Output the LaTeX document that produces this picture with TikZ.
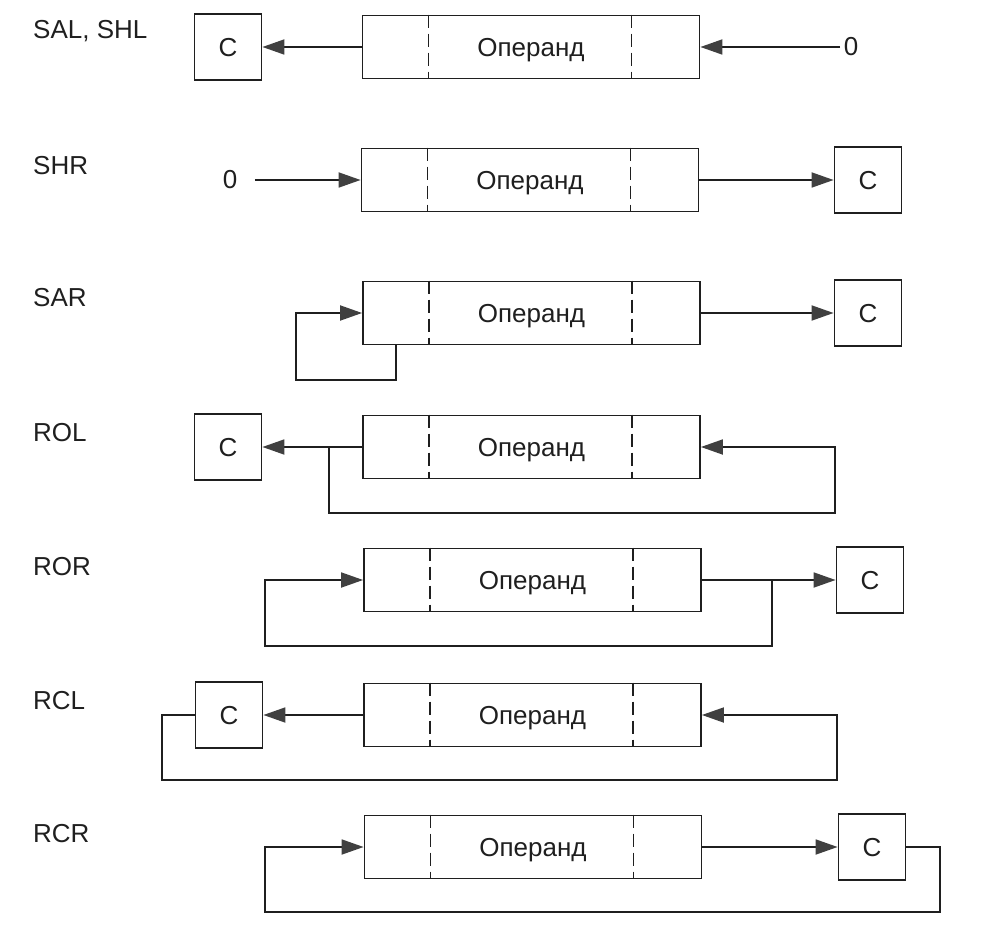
\documentclass[tikz,border=0pt]{standalone}
\usepackage{fontspec}
\setmainfont{Liberation Sans}
\usepackage{tikz}
\usetikzlibrary{arrows.meta,calc}
\definecolor{inkline}{gray}{0.12}
\definecolor{inkhead}{gray}{0.25}
\tikzset{
  txt/.style={font=\fontsize{26}{30}\selectfont,text=inkline},
  lbl/.style={txt,anchor=west,inner sep=0pt},
  opbox/.style={txt,text depth=0pt,draw=inkline,line width=1.8pt,minimum width=337pt,minimum height=63pt,inner sep=0pt},
  cbox/.style={txt,text depth=0pt,draw=inkline,line width=1.8pt,minimum width=67pt,minimum height=66pt,inner sep=0pt},
  arr/.style={draw=inkline,line width=1.8pt,-{Triangle[length=22pt,width=15pt,color=inkhead,fill=inkhead]}},
  opdash/.style={draw=inkline,line width=1.6pt,dash pattern=on 13pt off 6pt}
}

\begin{document}
\begin{tikzpicture}[x=1pt,y=-1pt]
	\useasboundingbox (0,0) rectangle (986,944);
	\node[lbl] (lA) at (33,31) {SAL, SHL};
	\node[lbl] (lB) at (33,166) {SHR};
	\node[lbl] (lC) at (33,298) {SAR};
	\node[lbl] (lD) at (33,433) {ROL};
	\node[lbl] (lE) at (33,567) {ROR};
	\node[lbl] (lF) at (33,701) {RCL};
	\node[lbl] (lG) at (33,834) {RCR};

	\node[opbox] (opA) at (531,47) {Операнд};
	\node[opbox] (opB) at (530,180) {Операнд};
	\node[opbox] (opC) at (531.5,313) {Операнд};
	\node[opbox] (opD) at (531.5,447) {Операнд};
	\node[opbox] (opE) at (532.5,580) {Операнд};
	\node[opbox] (opF) at (532.5,715) {Операнд};
	\node[opbox] (opG) at (533,847) {Операнд};
	\foreach \o in {opA,opB,opC,opD,opE,opF,opG}{
		\draw[opdash] ([xshift=67pt]\o.north west) -- ([xshift=67pt]\o.south west);
		\draw[opdash] ([xshift=-69pt]\o.north east) -- ([xshift=-69pt]\o.south east);
	}

	\node[cbox] (cA) at (228,47) {C};
	\node[cbox] (cB) at (868,180) {C};
	\node[cbox] (cC) at (868,313) {C};
	\node[cbox] (cD) at (228,447) {C};
	\node[cbox] (cE) at (870,580) {C};
	\node[cbox] (cF) at (229,715) {C};
	\node[cbox] (cG) at (872,847) {C};

	\node[txt] (zA) at (851,47) {0};
	\node[txt] (zB) at (230,180) {0};

	% SAL, SHL
	\draw[arr] (opA.west) -- (cA.east);
	\draw[arr] (zA.west) -- (opA.east);
	% SHR
	\draw[arr,shorten <=14pt] (zB.east) -- (opB.west);
	\draw[arr] (opB.east) -- (cB.west);
	% SAR
	\coordinate (bC) at (296,380);
	\draw[arr] (opC.east) -- (cC.west);
	\draw[arr] ([xshift=34pt]opC.south west) |- (bC) |- (opC.west);
	% ROL
	\coordinate (bD) at (835,513);
	\draw[arr] (opD.west) -- (cD.east);
	\draw[arr] ([xshift=-33pt]opD.west) |- (bD) |- (opD.east);
	% ROR
	\coordinate (bE) at (265,646);
	\draw[arr] (opE.east) -- (cE.west);
	\draw[arr] ([xshift=70pt]opE.east) |- (bE) |- (opE.west);
	% RCL
	\coordinate (lbF) at (162,780);
	\coordinate (rbF) at (837,780);
	\draw[arr] (opF.west) -- (cF.east);
	\draw[arr] (cF.west) -| (lbF) -- (rbF) |- (opF.east);
	% RCR
	\coordinate (rbG) at (940,912);
	\coordinate (lbG) at (265,912);
	\draw[arr] (opG.east) -- (cG.west);
	\draw[arr] (cG.east) -| (rbG) -- (lbG) |- (opG.west);
\end{tikzpicture}
\end{document}
